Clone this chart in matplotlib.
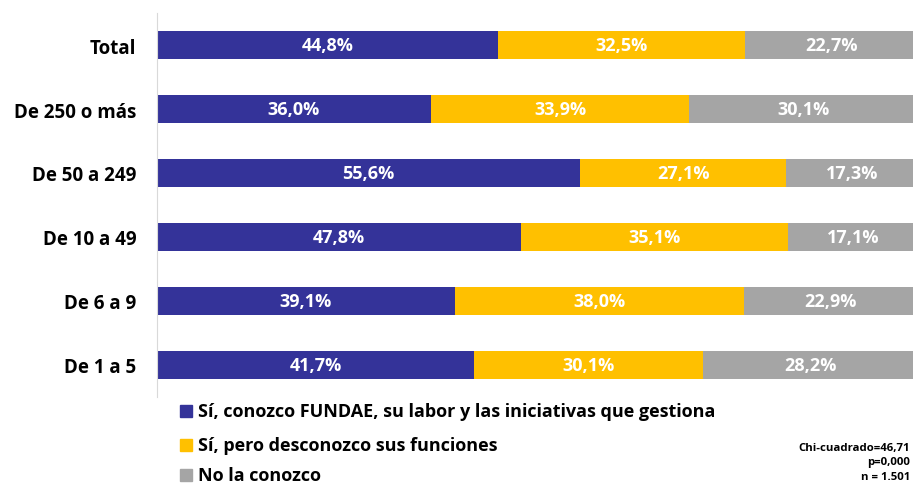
import matplotlib.pyplot as plt

plt.rcParams['font.family'] = ['Open Sans', 'DejaVu Sans']
plt.rcParams['font.weight'] = 'bold'

categorias = ["Total", "De 250 o más", "De 50 a 249", "De 10 a 49", "De 6 a 9", "De 1 a 5"]
conoce = [44.8, 36.0, 55.6, 47.8, 39.1, 41.7]
solo_nombre = [32.5, 33.9, 27.1, 35.1, 38.0, 30.1]
no_conoce = [22.7, 30.1, 17.3, 17.1, 22.9, 28.2]
series = ["Sí, conozco FUNDAE, su labor y las iniciativas que gestiona",
          "Sí, pero desconozco sus funciones",
          "No la conozco"]
colores = ["#343399", "#FFC000", "#A5A5A5"]

fig = plt.figure(figsize=(9.13, 4.85), dpi=100)
# el 100% queda algo fuera del lienzo, como en el original
ax = fig.add_axes([157/913, 1-398/485, 761/913, 384/485])

y = list(range(len(categorias)))
izq = [0]*len(categorias)
for vals, col in zip([conoce, solo_nombre, no_conoce], colores):
    ax.barh(y, vals, left=izq, height=0.45, color=col)
    for yi, l, v in zip(y, izq, vals):
        ax.text(l + v/2, yi, f"{v:.1f}%".replace(".", ","), ha='center', va='center',
                color='white', fontsize=13, fontweight='bold')
    izq = [a+b for a, b in zip(izq, vals)]

ax.set_xlim(0, 100)
ax.set_ylim(len(categorias)-0.5, -0.5)
ax.set_yticks(y)
ax.set_yticklabels(categorias, fontsize=13.5, fontweight='bold')
ax.tick_params(axis='y', length=0, pad=15)
ax.set_xticks([])
for s in ['top', 'right', 'bottom']:
    ax.spines[s].set_visible(False)
ax.spines['left'].set_color('#D9D9D9')

# leyenda manual
ys = [412, 446, 476]
for txt, col, yy in zip(series, colores, ys):
    fy = 1 - yy/485
    fig.patches.append(plt.Rectangle((180/913, fy - 6/485), 12/913, 12/485,
                                     transform=fig.transFigure, color=col))
    fig.text(198/913, fy, txt, ha='left', va='center', fontsize=13, fontweight='bold')

fig.text(910/913, 1-463/485, "Chi-cuadrado=46,71\np=0,000\nn = 1.501", ha='right', va='center',
         fontsize=8.2, fontweight='bold', linespacing=1.4)

fig.savefig("out.png", dpi=100)
